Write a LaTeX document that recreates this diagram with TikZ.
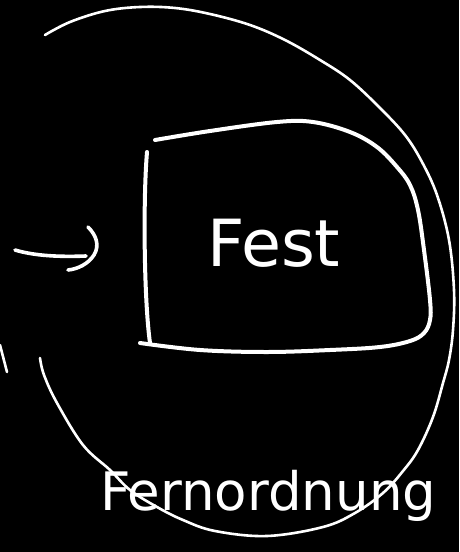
\documentclass[tikz,border=0pt]{standalone}
\usepackage{fontspec}
\setmainfont{DejaVu Sans}
\begin{document}
\begin{tikzpicture}[x=1pt,y=-1pt, line cap=round, line join=round,
 sketch/.style={draw=white, line width=2.6pt},
 boxline/.style={draw=white, line width=4pt},
 arrowline/.style={draw=white, line width=3.6pt},
 hand/.style={text=white, inner sep=0pt}]
\fill[black] (0,0) rectangle (459,552);
\useasboundingbox (0,0) rectangle (459,552);
% large circle
\draw[sketch] plot[smooth, tension=0.6] coordinates {(45,35) (70,22) (105,11) (140,7) (175,8) (210,14) (250,25) (285,40) (320,60) (350,80) (380,108) (405,135) (422,162) (437,195) (449,240) (454,290) (453,330) (449,360) (443,383) (433,417) (418,450) (403,471) (383,493) (355,513) (323,527) (267,536) (215,531) (183,520) (157,507) (130,490) (110,470) (83,445) (57,403) (44,375) (40,358)};
\draw[sketch] (0,345) -- (7,372);
% box
\draw[boxline] plot[smooth, tension=0.6] coordinates {(155,140) (210,131) (277,122) (313,122) (350,132) (377,147) (397,167) (410,185) (418,210) (424,250) (430,300) (430,320) (424,333) (410,341) (380,347) (330,350) (267,352) (200,350) (140,343)};
\draw[boxline] (147,152) .. controls (143,200) and (144,300) .. (150,343);
% arrow
\draw[arrowline] (15,250) .. controls (35,256) and (60,257) .. (86,256);
\draw[arrowline] (88,227) .. controls (96,235) and (100,245) .. (94,255) .. controls (88,264) and (78,269) .. (68,270);
% texts
\node[hand, anchor=base west, font=\fontsize{65}{65}\selectfont] (fest) at (207,266) {Fest};
\node[hand, anchor=base west, font=\fontsize{53}{53}\selectfont] (fern) at (100,510) {Fernordnung};
\end{tikzpicture}
\end{document}
